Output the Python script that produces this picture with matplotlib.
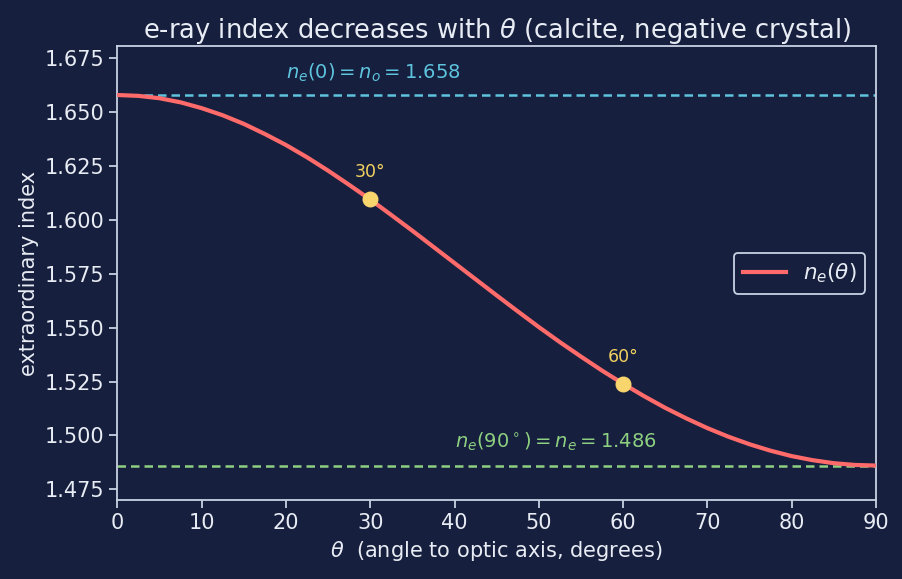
import numpy as np
import matplotlib.pyplot as plt

# values
theta = [0, 2.5, 5, 7.5, 10, 12.5, 15, 17.5, 20, 22.5, 25, 27.5, 30, 32.5, 35, 37.5,
         40, 42.5, 45, 47.5, 50, 52.5, 55, 57.5, 60, 62.5, 65, 67.5, 70, 72.5, 75,
         77.5, 80, 82.5, 85, 87.5, 90]
n_e = [1.6580, 1.6576, 1.6565, 1.6546, 1.6519, 1.6486, 1.6446, 1.6399, 1.6348,
       1.6291, 1.6229, 1.6163, 1.6095, 1.6023, 1.5950, 1.5875, 1.5800, 1.5725,
       1.5650, 1.5576, 1.5503, 1.5433, 1.5366, 1.5301, 1.5240, 1.5182, 1.5128,
       1.5079, 1.5034, 1.4994, 1.4959, 1.4929, 1.4904, 1.4885, 1.4871, 1.4863,
       1.4860]
n_o = 1.658
n_e90 = 1.486
mark_theta = [30, 60]
mark_n = [1.6095, 1.5240]
mark_labels = ["30°", "60°"]

bg = "#161f3d"
fg = "#e8ecf4"
spine = "#c9d2e3"
cyan = "#5ec4de"
green = "#8ed081"

fig, ax = plt.subplots(figsize=(9.03, 5.79), dpi=100)
fig.patch.set_facecolor(bg)
ax.set_facecolor(bg)

ax.axhline(n_o, color=cyan, ls="--", lw=1.8, dashes=(3.4, 2))
ax.axhline(n_e90, color=green, ls="--", lw=1.8, dashes=(3.4, 2))
ax.plot(theta, n_e, color="#ff6b6b", lw=3.0, label=r"$n_e(\theta)$", zorder=3)
ax.scatter(mark_theta, mark_n, s=110, color="#f9d56e", zorder=4)
for t, n, lab in zip(mark_theta, mark_n, mark_labels):
    ax.annotate(lab, (t, n), xytext=(0, 13), textcoords="offset points",
                ha="center", va="bottom", color="#f2d160", fontsize=12.5)

ax.text(20, n_o + 0.005, r"$n_e(0) = n_o = 1.658$", color=cyan,
        fontsize=14, va="bottom", ha="left")
ax.text(40, n_e90 + 0.0058, r"$n_e(90^\circ) = n_e = 1.486$", color=green,
        fontsize=14, va="bottom", ha="left")

ax.set_xlim(0, 90)
ax.set_ylim(1.4699, 1.6806)
ax.set_xticks(range(0, 91, 10))
ax.set_yticks(np.arange(1.475, 1.676, 0.025))
ax.yaxis.set_major_formatter(plt.FormatStrFormatter("%.3f"))
ax.tick_params(colors=spine, labelcolor=fg, labelsize=15, length=6, width=1.3)
for s in ax.spines.values():
    s.set_color(spine)
    s.set_linewidth(1.3)

ax.set_xlabel(r"$\theta$  (angle to optic axis, degrees)", color=fg, fontsize=15)
ax.set_ylabel("extraordinary index", color=fg, fontsize=15)
ax.set_title(r"e-ray index decreases with $\theta$ (calcite, negative crystal)",
             color=fg, fontsize=18.5)

leg = ax.legend(loc="center right", fontsize=15.5, facecolor=bg, edgecolor=spine,
                framealpha=1, labelcolor=fg)
leg.get_frame().set_linewidth(1.3)

fig.subplots_adjust(left=0.13, right=0.97, top=0.92, bottom=0.136)
fig.savefig("out.png", dpi=100, facecolor=bg)
